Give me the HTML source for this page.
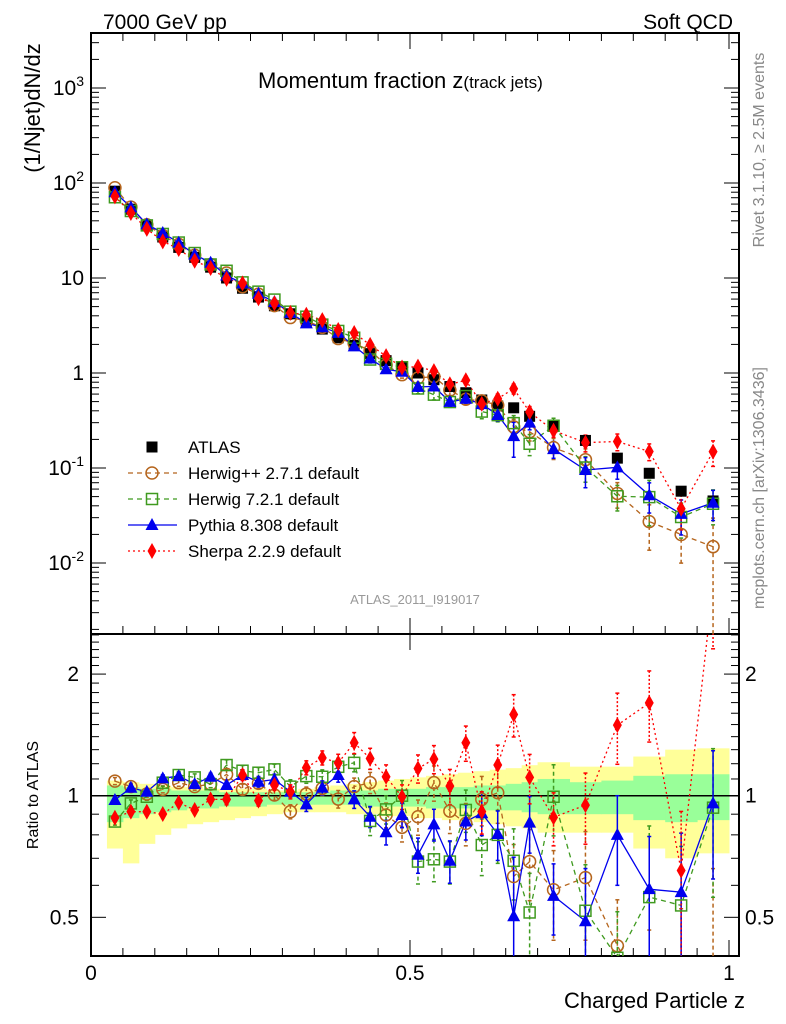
<!DOCTYPE html>
<html><head><meta charset="utf-8"><style>
html,body{margin:0;padding:0;background:#fff;width:786px;height:1024px;overflow:hidden;}
svg{display:block;font-family:"Liberation Sans",sans-serif;}
</style></head><body>
<svg id="c" width="786" height="1024" viewBox="0 0 786 1024" overflow="hidden">
<defs>
<clipPath id="clipMain"><rect x="91" y="33" width="648" height="601"/></clipPath>
<clipPath id="clipRatio"><rect x="91" y="634" width="648" height="322"/></clipPath>
</defs>
<text x="103" y="29" font-size="21">7000 GeV pp</text>
<text x="733" y="29" font-size="21" text-anchor="end">Soft QCD</text>
<text x="258" y="88" font-size="22">Momentum fraction z<tspan font-size="17">(track jets)</tspan></text>
<text transform="translate(40,108) rotate(-90)" font-size="22" text-anchor="middle">(1/Njet)dN/dz</text>
<text transform="translate(38,795) rotate(-90)" font-size="16" text-anchor="middle">Ratio to ATLAS</text>
<text transform="translate(764,150) rotate(-90)" font-size="16" fill="#888" text-anchor="middle">Rivet 3.1.10, ≥ 2.5M events</text>
<text transform="translate(764,488) rotate(-90)" font-size="16" fill="#888" text-anchor="middle">mcplots.cern.ch [arXiv:1306.3436]</text>
<text x="415" y="604" font-size="13" fill="#999" text-anchor="middle">ATLAS_2011_I919017</text>
<text x="745" y="1008" font-size="22" text-anchor="end">Charged Particle z</text>
<g id="bands" clip-path="url(#clipRatio)"></g>
<g id="axes"></g>
<g id="ratioMarks" clip-path="url(#clipRatio)"></g>
<g id="mainMarks" clip-path="url(#clipMain)"></g>
<g id="legend"></g>
</svg>
<script>
const zCenters=[0.0375,0.0625,0.0875,0.1125,0.1375,0.1625,0.1875,0.2125,0.2375,0.2625,0.2875,0.3125,0.3375,0.3625,0.3875,0.4125,0.4375,0.4625,0.4875,0.5125,0.5375,0.5625,0.5875,0.6125,0.6375,0.6625,0.6875,0.725,0.775,0.825,0.875,0.925,0.975];
const binEdges=[0.025,0.05,0.075,0.1,0.125,0.15,0.175,0.2,0.225,0.25,0.275,0.3,0.325,0.35,0.375,0.4,0.425,0.45,0.475,0.5,0.525,0.55,0.575,0.6,0.625,0.65,0.675,0.7,0.75,0.8,0.85,0.9,0.95,1.0];
const atlas=[82,53,36,27,21,16.5,13,10,7.8,6.3,5.1,4.2,3.5,2.9,2.35,1.95,1.6,1.35,1.15,1.0,0.85,0.72,0.62,0.52,0.45,0.43,0.35,0.28,0.195,0.127,0.088,0.057,0.045];
const ratioHerwigPP=[1.087,1.053,1.01,1.037,1.077,1.053,1.068,1.129,1.037,1.073,1.004,0.913,1.01,1.043,0.981,1.053,1.077,0.896,0.835,0.887,1.077,0.916,0.854,0.979,1.017,0.631,0.687,0.585,0.627,0.425,0.31,0.35,0.33];
const ratioHerwig7=[0.863,0.957,0.994,1.077,1.125,1.11,1.068,1.191,1.153,1.14,1.162,1.053,1.118,1.114,1.179,1.206,0.866,0.925,1.0,0.687,0.696,0.687,0.922,0.755,0.80,0.69,0.514,0.994,0.519,0.397,0.561,0.535,0.934];
const ratioPythia=[0.976,1.046,1.023,1.104,1.118,1.068,1.114,1.063,1.125,1.083,1.097,1.023,0.952,1.046,1.125,0.979,0.887,0.812,0.896,0.714,0.849,0.69,0.863,0.905,0.804,0.503,0.858,0.565,0.489,0.80,0.587,0.577,0.957];
const ratioSherpa=[0.882,0.913,0.913,0.901,0.961,0.922,0.979,0.979,1.125,0.972,1.063,1.023,1.173,1.241,1.206,1.352,1.236,1.114,0.994,1.168,1.232,1.056,1.352,0.913,1.191,1.588,1.11,0.884,0.948,1.495,1.697,0.653,3.3];
const errHerwigPP=[0.02,0.02,0.02,0.02,0.02,0.02,0.02,0.03,0.03,0.03,0.03,0.04,0.04,0.04,0.05,0.05,0.06,0.07,0.08,0.1,0.1,0.12,0.12,0.14,0.16,0.2,0.2,0.25,0.3,0.3,0.5,0.5,1.0];
const errHerwig7=[0.02,0.02,0.02,0.02,0.02,0.02,0.02,0.03,0.03,0.03,0.03,0.04,0.04,0.04,0.05,0.05,0.08,0.08,0.09,0.12,0.12,0.12,0.12,0.16,0.15,0.2,0.25,0.2,0.3,0.3,0.5,0.4,0.4];
const errPythia=[0.02,0.02,0.02,0.02,0.02,0.02,0.02,0.02,0.03,0.03,0.03,0.03,0.04,0.04,0.04,0.05,0.06,0.07,0.07,0.1,0.09,0.12,0.1,0.12,0.14,0.4,0.16,0.2,0.35,0.25,0.35,0.4,0.35];
const errSherpa=[0.02,0.02,0.02,0.02,0.02,0.02,0.02,0.03,0.03,0.03,0.03,0.04,0.04,0.04,0.05,0.06,0.06,0.07,0.07,0.08,0.08,0.1,0.1,0.12,0.12,0.12,0.14,0.15,0.2,0.2,0.2,0.4,0.3];
const bandYellowHi=[1.09,1.08,1.07,1.06,1.05,1.05,1.04,1.04,1.04,1.04,1.03,1.03,1.04,1.05,1.06,1.07,1.08,1.09,1.10,1.11,1.12,1.13,1.14,1.15,1.16,1.17,1.19,1.21,1.18,1.18,1.25,1.30,1.31];
const bandYellowLo=[0.74,0.68,0.76,0.80,0.83,0.85,0.86,0.87,0.88,0.89,0.90,0.91,0.91,0.91,0.91,0.90,0.90,0.89,0.89,0.88,0.88,0.87,0.87,0.86,0.85,0.84,0.83,0.81,0.81,0.81,0.74,0.70,0.72];
const bandGreenHi=[1.06,1.05,1.04,1.04,1.03,1.03,1.03,1.02,1.02,1.02,1.02,1.02,1.02,1.02,1.03,1.03,1.03,1.04,1.04,1.04,1.05,1.05,1.05,1.06,1.06,1.07,1.08,1.10,1.08,1.09,1.12,1.13,1.13];
const bandGreenLo=[0.86,0.88,0.90,0.91,0.92,0.93,0.93,0.94,0.94,0.94,0.95,0.95,0.95,0.95,0.95,0.95,0.94,0.94,0.94,0.94,0.93,0.93,0.93,0.92,0.92,0.92,0.91,0.90,0.90,0.90,0.87,0.86,0.87];
const xTickLabels=["0","0.5","1"];
const mainTickLabels=["10^-2","10^-1","1","10","10^2","10^3"];
const ratioTickLabels=["0.5","1","2"];

const NS="http://www.w3.org/2000/svg";
const X0=91,XR=739,XS=638,YT=33,YM=634,YB=956;
function xs(z){return X0+z*XS;}
function ym(v){return 373-95*Math.log10(Math.max(v,1e-6));}
function yr(r){return 795.7-404*Math.log10(Math.max(r,1e-3));}
function clampY(y,a,b){return Math.min(Math.max(y,a-5),b+5);}
function mk(tag,attrs,parent){const e=document.createElementNS(NS,tag);for(const k in attrs)e.setAttribute(k,attrs[k]);parent.appendChild(e);return e;}
const axes=document.getElementById('axes'),bands=document.getElementById('bands'),rm=document.getElementById('ratioMarks'),mm=document.getElementById('mainMarks'),lg=document.getElementById('legend');

function band(lo,hi,col,name){
  for(let i=0;i<zCenters.length;i++){
    const r=mk('rect',{x:xs(binEdges[i]),y:yr(hi[i]),width:xs(binEdges[i+1])-xs(binEdges[i])+0.5,height:yr(lo[i])-yr(hi[i]),fill:col},bands);
    
    
  }
}
band(bandYellowLo,bandYellowHi,'#ffff99','ratio-band-total');
band(bandGreenLo,bandGreenHi,'#99ff99','ratio-band-stat');

let f=mk('rect',{x:X0,y:YT,width:XR-X0,height:YM-YT,fill:'none',stroke:'#000','stroke-width':2},axes);

f=mk('rect',{x:X0,y:YM,width:XR-X0,height:YB-YM,fill:'none',stroke:'#000','stroke-width':2},axes);

let l1=mk('line',{x1:X0,x2:XR,y1:yr(1),y2:yr(1),stroke:'#000','stroke-width':1.5},axes);


for(let k=0;k<=20;k++){
  const z=k*0.05,x=xs(z),len=(k%10===0)?16:8;
  for(const [yb,dir] of [[YM,-1],[YT,1],[YB,-1]]){
    const t=mk('line',{x1:x,x2:x,y1:yb,y2:yb+dir*len,stroke:'#000','stroke-width':1},axes);
    
  }
  if(k===10){const t=mk('line',{x1:x,x2:x,y1:YM,y2:YM+16,stroke:'#000','stroke-width':1},axes);}
}
xTickLabels.forEach((s,i)=>{
  const t=mk('text',{x:xs(i*0.5),y:980,'font-size':21,'text-anchor':'middle'},axes);t.textContent=s;
  
});
for(let d=-3;d<=3;d++){
  for(let m=1;m<10;m++){
    const v=m*Math.pow(10,d),y=ym(v);
    if(y<YT||y>YM)continue;
    const len=m===1?15:8;
    for(const [xb,dir] of [[X0,1],[XR,-1]]){
      const t=mk('line',{x1:xb,x2:xb+dir*len,y1:y,y2:y,stroke:'#000','stroke-width':1},axes);
      
    }
  }
}
mainTickLabels.forEach((s,i)=>{
  const y=ym(Math.pow(10,i-2))+7;
  const t=mk('text',{x:84,y:y,'font-size':21,'text-anchor':'end'},axes);
  const p=s.split('^');
  if(p.length>1){t.textContent=p[0];const ts=mk('tspan',{dy:-9,'font-size':14},t);ts.textContent=p[1];}
  else t.textContent=s;
  
});
const rt=[0.4,0.5,0.6,0.7,0.8,0.9,1,1.1,1.2,1.3,1.4,1.5,1.6,1.7,1.8,1.9,2,2.1,2.2,2.3,2.4,2.5];
rt.forEach(r=>{const y=yr(r);if(y<YM||y>YB)return;const len=(r===0.5||r===1||r===2)?15:8;
  for(const [xb,dir] of [[X0,1],[XR,-1]]){const t=mk('line',{x1:xb,x2:xb+dir*len,y1:y,y2:y,stroke:'#000','stroke-width':1},axes);}
});
ratioTickLabels.forEach(s=>{const y=yr(parseFloat(s))+7;
  let t=mk('text',{x:79,y:y,'font-size':21,'text-anchor':'end'},axes);t.textContent=s;
  t=mk('text',{x:745,y:y,'font-size':21},axes);t.textContent=s;
});

function marker(type,col,x,y,parent,name){
  let e;
  if(type==='sq') e=mk('rect',{x:x-5.5,y:y-5.5,width:11,height:11,fill:'#000'},parent);
  else if(type==='circ') e=mk('circle',{cx:x,cy:y,r:6,fill:'none',stroke:col,'stroke-width':1.5},parent);
  else if(type==='osq') e=mk('rect',{x:x-5.5,y:y-5.5,width:11,height:11,fill:'none',stroke:col,'stroke-width':1.5},parent);
  else if(type==='tri') e=mk('polygon',{points:`${x},${y-7} ${x-6.5},${y+5} ${x+6.5},${y+5}`,fill:col},parent);
  else e=mk('polygon',{points:`${x},${y-8} ${x-4.5},${y} ${x},${y+8} ${x+4.5},${y}`,fill:col},parent);
  
  
}
function errbar(x,y1,y2,col,dash,parent,name){
  const l=mk('line',{x1:x,x2:x,y1:y1,y2:y2,stroke:col,'stroke-width':1.5,'stroke-dasharray':dash},parent);
  
  
  mk('line',{x1:x-2,x2:x+2,y1:y1,y2:y1,stroke:col,'stroke-width':1.5},parent);
  mk('line',{x1:x-2,x2:x+2,y1:y2,y2:y2,stroke:col,'stroke-width':1.5},parent);
}
const series=[
 {r:ratioHerwigPP,e:errHerwigPP,col:'#b5651d',dash:'5,4',m:'circ',name:'herwigpp'},
 {r:ratioHerwig7,e:errHerwig7,col:'#3f9a1f',dash:'5,4',m:'osq',name:'herwig7'},
 {r:ratioPythia,e:errPythia,col:'#0000ee',dash:'',m:'tri',name:'pythia'},
 {r:ratioSherpa,e:errSherpa,col:'#ff0000',dash:'2,3',m:'dia',name:'sherpa'}
];
series.forEach(s=>{
  const pm=zCenters.map((z,i)=>xs(z).toFixed(1)+','+ym(atlas[i]*s.r[i]).toFixed(1)).join(' ');
  const pr=zCenters.map((z,i)=>xs(z).toFixed(1)+','+yr(s.r[i]).toFixed(1)).join(' ');
  let p=mk('polyline',{points:pm,fill:'none',stroke:s.col,'stroke-width':1.3,'stroke-dasharray':s.dash},mm);
  
  p=mk('polyline',{points:pr,fill:'none',stroke:s.col,'stroke-width':1.3,'stroke-dasharray':s.dash},rm);
  
  zCenters.forEach((z,i)=>{
    const v=atlas[i]*s.r[i],e=s.e[i],x=xs(z);
    const lo=Math.max(1-e,0.001);
    const d=s.dash==='2,3'?'2,2':(s.dash?'4,3':'');
    errbar(x,clampY(ym(v*(1+e)),YT,YM),clampY(ym(v*lo),YT,YM),s.col,d,mm,s.name+'-error-bar');
    errbar(x,clampY(yr(s.r[i]*(1+e)),YM,YB),clampY(yr(s.r[i]*lo),YM,YB),s.col,d,rm,s.name+'-ratio-error-bar');
  });
});
zCenters.forEach((z,i)=>marker('sq','#000',xs(z),ym(atlas[i]),mm,'atlas-point'));
series.forEach(s=>{
  zCenters.forEach((z,i)=>{
    marker(s.m,s.col,xs(z),ym(atlas[i]*s.r[i]),mm,s.name+'-point');
    marker(s.m,s.col,xs(z),yr(s.r[i]),rm,s.name+'-ratio-point');
  });
});
const leg=[['sq','#000','','ATLAS'],['circ','#b5651d','5,4','Herwig++ 2.7.1 default'],['osq','#3f9a1f','5,4','Herwig 7.2.1 default'],['tri','#0000ee','','Pythia 8.308 default'],['dia','#ff0000','2,3','Sherpa 2.2.9 default']];
leg.forEach((e,i)=>{
  const y=447+i*26;
  const g=mk('g',{},lg);
  
  
  if(i>0)mk('line',{x1:128,x2:177,y1:y,y2:y,stroke:e[1],'stroke-width':1.3,'stroke-dasharray':e[2]},g);
  marker(e[0],e[1],152,y,g,'legend-marker');
  const t=mk('text',{x:188,y:y+6,'font-size':17},g);t.textContent=e[3];
  
  
});
</script>
</body></html>
